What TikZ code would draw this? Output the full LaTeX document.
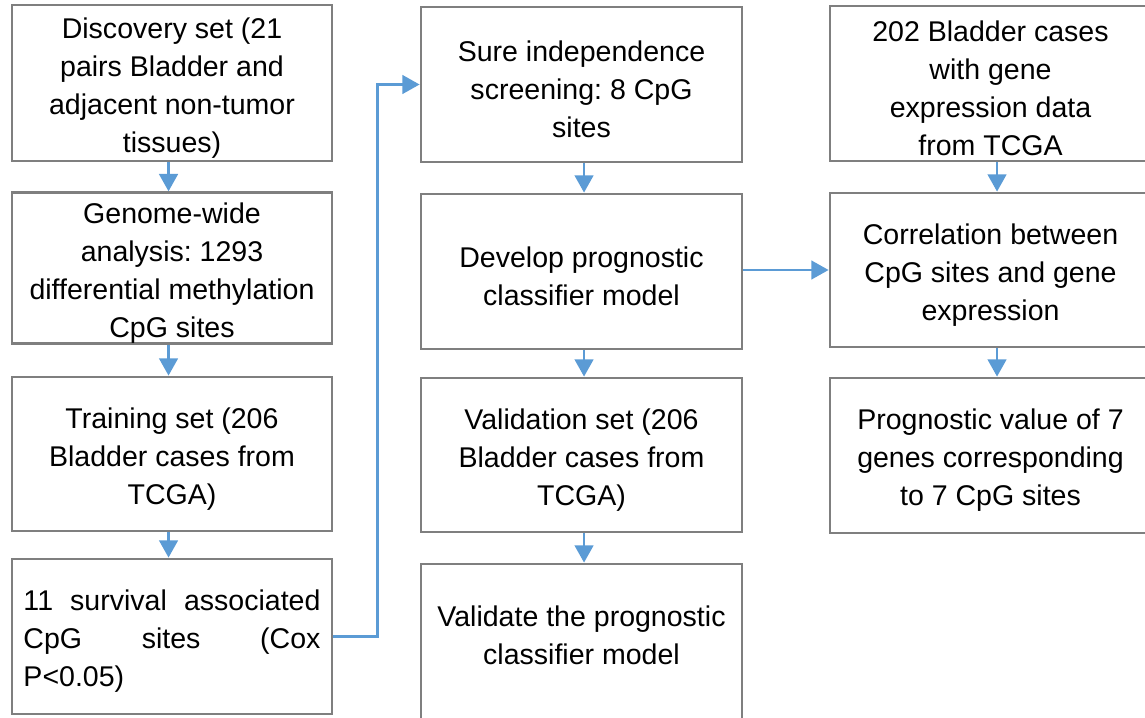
\documentclass[tikz,border=0pt]{standalone}
\usepackage{fontspec}
\setmainfont{Liberation Sans}
\usetikzlibrary{arrows.meta}
\definecolor{boxgray}{HTML}{7F7F7F}
\definecolor{arrowblue}{HTML}{5B9BD5}
\newcommand{\tup}{\rule{0pt}{23pt}}
\begin{document}
\frenchspacing
\begin{tikzpicture}[x=0.75pt,y=-0.75pt,
  box/.style={draw=boxgray, line width=2.1pt, align=center, inner sep=0pt,
    font=\fontsize{21.4}{28.5}\selectfont},
  txt/.style={align=center, inner sep=0pt, font=\fontsize{21.4}{28.5}\selectfont},
  flow/.style={draw=arrowblue, line width=2pt, -{Triangle[width=14pt,length=13pt]}}]
\clip (0,0) rectangle (1145,717);
% column 1
\node[box, minimum width=240pt, minimum height=117pt] (d1) at (172,83)
  {\tup Discovery set (21\\pairs Bladder and\\adjacent non-tumor\\tissues)};
\node[box, minimum width=240pt, minimum height=112.5pt] (d2) at (172,268)
  {\tup Genome-wide\\analysis: 1293\\differential methylation\\CpG sites};
\node[box, minimum width=240pt, minimum height=115.5pt] (d3) at (172,454)
  {\tup Training set (206\\Bladder cases from\\TCGA)};
\node[box, minimum width=240pt, minimum height=116.25pt, align=left] (d4) at (172,636.5)
  {\tup\makebox[222.75pt][s]{11 survival associated}\\\makebox[222.75pt][s]{CpG sites (Cox}\\P<0.05)};
% column 2
\node[box, minimum width=240.75pt, minimum height=116.25pt] (s1) at (581.5,84.5)
  {\tup Sure independence\\screening: 8 CpG\\sites};
\node[box, minimum width=240.75pt, minimum height=116.25pt] (s2) at (581.5,271.5)
  {\tup Develop prognostic\\classifier model};
\node[box, minimum width=240.75pt, minimum height=115.5pt] (s3) at (581.5,455)
  {\tup Validation set (206\\Bladder cases from\\TCGA)};
\node[box, minimum width=240.75pt, minimum height=127.5pt] (s4) at (581.5,649) {};
\node[txt] (s4t) at (581.5,635) {Validate the prognostic\\classifier model};
% column 3
\node[box, minimum width=240.75pt, minimum height=116.25pt] (c1) at (990.5,83.5)
  {\tup 202 Bladder cases\\with gene\\expression data\\from TCGA};
\node[box, minimum width=240.75pt, minimum height=115.5pt] (c2) at (990.5,270)
  {\tup Correlation between\\CpG sites and gene\\expression};
\node[box, minimum width=240.75pt, minimum height=116.25pt] (c3) at (990.5,455.5)
  {\tup Prognostic value of 7\\genes corresponding\\to 7 CpG sites};
% connectors
\draw[flow] ([xshift=-2.6pt]d1.south) -- ([xshift=-2.6pt]d2.north);
\draw[flow] ([xshift=-2.6pt]d2.south) -- ([xshift=-2.6pt]d3.north);
\draw[flow] ([xshift=-2.6pt]d3.south) -- ([xshift=-2.6pt]d4.north);
\draw[flow] (d4.east) -- ++(44,0) |- (s1.west);
\draw[flow] ([xshift=1.9pt]s1.south) -- ([xshift=1.9pt]s2.north);
\draw[flow] ([xshift=1.9pt]s2.south) -- ([xshift=1.9pt]s3.north);
\draw[flow] ([xshift=1.9pt]s3.south) -- ([xshift=1.9pt]s4.north);
\draw[flow] (s2.east |- c2.west) -- (c2.west);
\draw[flow] ([xshift=4.9pt]c1.south) -- ([xshift=4.9pt]c2.north);
\draw[flow] ([xshift=4.9pt]c2.south) -- ([xshift=4.9pt]c3.north);
\end{tikzpicture}
\end{document}
